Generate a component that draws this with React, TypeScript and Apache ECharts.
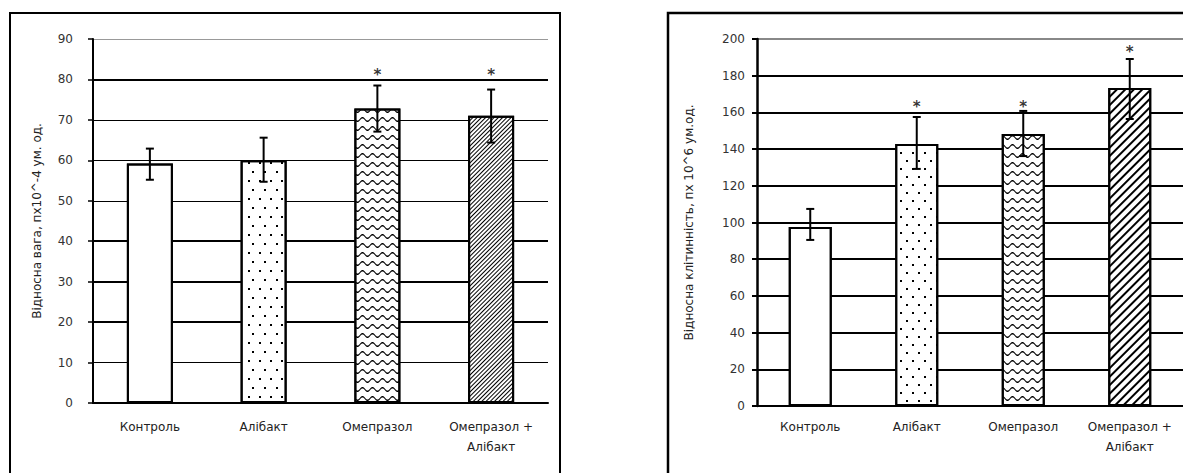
import React, { useEffect, useRef } from "react";
import * as echarts from "echarts";

const categories = ["Контроль", "Алібакт", "Омепразол", "Омепразол +\nАлібакт"];

// Left chart: relative weight
const weightMean = [59.2, 60.0, 72.8, 71.0];
const weightLow = [55.2, 54.7, 67.1, 64.4];
const weightHigh = [62.9, 65.6, 78.5, 77.5];
const weightStars = [null, null, 82, 82];
const weightTicks = { min: 0, max: 90, step: 10 };
const weightThickGrid = [20, 30, 40, 80];

// Right chart: relative cellularity
const cellMean = [97.5, 142.8, 148.2, 173.3];
const cellLow = [90.5, 129.2, 136.2, 156.4];
const cellHigh = [107.4, 157.5, 160.8, 189.1];
const cellStars = [null, 165, 165, 195];
const cellTicks = { min: 0, max: 200, step: 20 };

const FONT = "DejaVu Sans";

const wavePath =
  "path://M0 1.5 C1.7 -0.5 3.3 -0.5 5 1.5 C6.7 3.5 8.3 3.5 10 1.5 L10 2.7 C8.3 4.7 6.7 4.7 5 2.7 C3.3 0.7 1.7 0.7 0 2.7 Z";

function decals(right: boolean) {
  const dots = {
    symbol: "rect",
    symbolSize: 1,
    symbolKeepAspect: false,
    color: "#000",
    backgroundColor: "#fff",
    dashArrayX: right ? [[2, 10], [0, 6, 2, 4]] : [[1.5, 10], [0, 6, 1.5, 2.5]],
    dashArrayY: right ? [2, 6] : [1.5, 6.5],
  };
  const wave = {
    symbol: wavePath,
    symbolSize: 1,
    symbolKeepAspect: false,
    color: "#000",
    backgroundColor: "#fff",
    dashArrayX: [10, 0],
    dashArrayY: [4.2, 3.8],
  };
  const hatch = {
    symbol: "rect",
    symbolSize: 1,
    symbolKeepAspect: false,
    color: "#000",
    backgroundColor: "#fff",
    dashArrayX: [1, 0],
    dashArrayY: right ? [1.2, 3.6] : [1, 2],
    rotation: -Math.PI / 4,
  };
  return [null, dots, wave, hatch];
}

function barData(values: number[], right: boolean) {
  const d = decals(right);
  return values.map((v, i) => ({
    value: v,
    itemStyle: {
      color: "#fff",
      borderColor: "#000",
      borderWidth: 2,
      decal: d[i] || { symbol: "none" },
    },
  }));
}

function errorSeries(low: number[], high: number[], axisIdx: number) {
  return {
    type: "custom",
    xAxisIndex: axisIdx,
    yAxisIndex: axisIdx,
    z: 5,
    silent: true,
    encode: { x: 0, y: [1, 2] },
    data: low.map((l, i) => [i, l, high[i]]),
    renderItem: (params: any, api: any) => {
      const top = api.coord([api.value(0), api.value(2)]);
      const bot = api.coord([api.value(0), api.value(1)]);
      const hw = 4;
      const style = { stroke: "#000", lineWidth: 2 };
      return {
        type: "group",
        children: [
          { type: "line", shape: { x1: top[0], y1: top[1], x2: bot[0], y2: bot[1] }, style },
          { type: "line", shape: { x1: top[0] - hw, y1: top[1], x2: top[0] + hw, y2: top[1] }, style },
          { type: "line", shape: { x1: bot[0] - hw, y1: bot[1], x2: bot[0] + hw, y2: bot[1] }, style },
        ],
      };
    },
  };
}

function starSeries(stars: (number | null)[], axisIdx: number) {
  return {
    type: "scatter",
    xAxisIndex: axisIdx,
    yAxisIndex: axisIdx,
    z: 6,
    silent: true,
    symbolSize: 1,
    itemStyle: { color: "rgba(0,0,0,0)" },
    label: {
      show: true,
      position: "inside",
      formatter: "*",
      fontSize: 15,
      fontWeight: "bold",
      fontFamily: FONT,
      color: "#000",
      offset: [0, 4],
    },
    data: stars
      .map((s, i) => (s == null ? null : [i, s]))
      .filter((p) => p !== null),
  };
}

function gridColors(t: { min: number; max: number; step: number }, topColor: string) {
  const n = Math.round((t.max - t.min) / t.step) + 1;
  const arr: string[] = [];
  for (let i = 0; i < n; i++) arr.push(i === n - 1 ? topColor : "#000");
  return arr;
}

export default function App() {
  const ref = useRef<HTMLDivElement>(null);
  useEffect(() => {
    if (!ref.current) return;
    const chart = echarts.init(ref.current, undefined, { renderer: "svg" });
    const xAxisBase = (gridIndex: number, margin: number) => ({
      type: "category",
      gridIndex,
      data: categories,
      axisLine: { lineStyle: { color: "#000", width: 2 } },
      axisTick: { length: 5, lineStyle: { color: "#000", width: 2 } },
      axisLabel: {
        margin,
        fontSize: 12,
        color: "#222",
        lineHeight: 20,
        fontFamily: FONT,
        interval: 0,
      },
    });
    const option: any = {
      animation: false,
      backgroundColor: "#fff",
      textStyle: { fontFamily: FONT },
      grid: [
        { left: 93, top: 39, width: 455, height: 364 },
        { left: 757, top: 39, width: 426, height: 367 },
      ],
      xAxis: [xAxisBase(0, 14), xAxisBase(1, 11)],
      yAxis: [
        {
          type: "value",
          gridIndex: 0,
          min: weightTicks.min,
          max: weightTicks.max,
          interval: weightTicks.step,
          name: "Відносна вага, пх10^-4 ум. од.",
          nameLocation: "middle",
          nameRotate: 90,
          nameGap: 50,
          nameTextStyle: { fontSize: 12, color: "#222", fontFamily: FONT },
          axisLine: { show: true, lineStyle: { color: "#000", width: 2 } },
          axisTick: { show: true, length: 5, lineStyle: { color: "#000", width: 1.5 } },
          axisLabel: { margin: 20, fontSize: 12, color: "#333", fontFamily: FONT },
          splitLine: { lineStyle: { color: gridColors(weightTicks, "#999"), width: 1 } },
        },
        {
          type: "value",
          gridIndex: 1,
          min: cellTicks.min,
          max: cellTicks.max,
          interval: cellTicks.step,
          name: "Відносна клітинність, пх 10^6 ум.од.",
          nameLocation: "middle",
          nameRotate: 90,
          nameGap: 62,
          nameTextStyle: { fontSize: 12, color: "#222", fontFamily: FONT },
          axisLine: { show: true, lineStyle: { color: "#000", width: 2.5 } },
          axisTick: { show: true, length: 5, lineStyle: { color: "#000", width: 2 } },
          axisLabel: { margin: 12, fontSize: 12, color: "#333", fontFamily: FONT },
          splitLine: { lineStyle: { color: gridColors(cellTicks, "#888"), width: 2 } },
        },
      ],
      series: [
        {
          type: "line",
          xAxisIndex: 0,
          yAxisIndex: 0,
          data: [],
          z: 1,
          silent: true,
          markLine: {
            z: 1,
            silent: true,
            symbol: ["none", "none"],
            label: { show: false },
            lineStyle: { color: "#000", width: 2, type: "solid" },
            data: weightThickGrid.map((v) => ({ yAxis: v })),
          },
        },
        {
          type: "bar",
          xAxisIndex: 0,
          yAxisIndex: 0,
          barWidth: 46,
          z: 3,
          data: barData(weightMean, false),
        },
        errorSeries(weightLow, weightHigh, 0),
        starSeries(weightStars, 0),
        {
          type: "bar",
          xAxisIndex: 1,
          yAxisIndex: 1,
          barWidth: 43,
          z: 3,
          data: barData(cellMean, true),
        },
        errorSeries(cellLow, cellHigh, 1),
        starSeries(cellStars, 1),
      ],
      graphic: [
        {
          type: "rect",
          shape: { x: 10, y: 13, width: 550, height: 480 },
          style: { fill: "none", stroke: "#000", lineWidth: 2 },
          silent: true,
          z: 100,
        },
        {
          type: "rect",
          shape: { x: 668, y: 13, width: 600, height: 480 },
          style: { fill: "none", stroke: "#000", lineWidth: 2.5 },
          silent: true,
          z: 100,
        },
      ],
    };
    chart.setOption(option);
    return () => chart.dispose();
  }, []);
  return (
    <div
      ref={ref}
      style={{ position: "fixed", left: 0, top: 0, width: 1183, height: 473, background: "#fff" }}
    />
  );
}
